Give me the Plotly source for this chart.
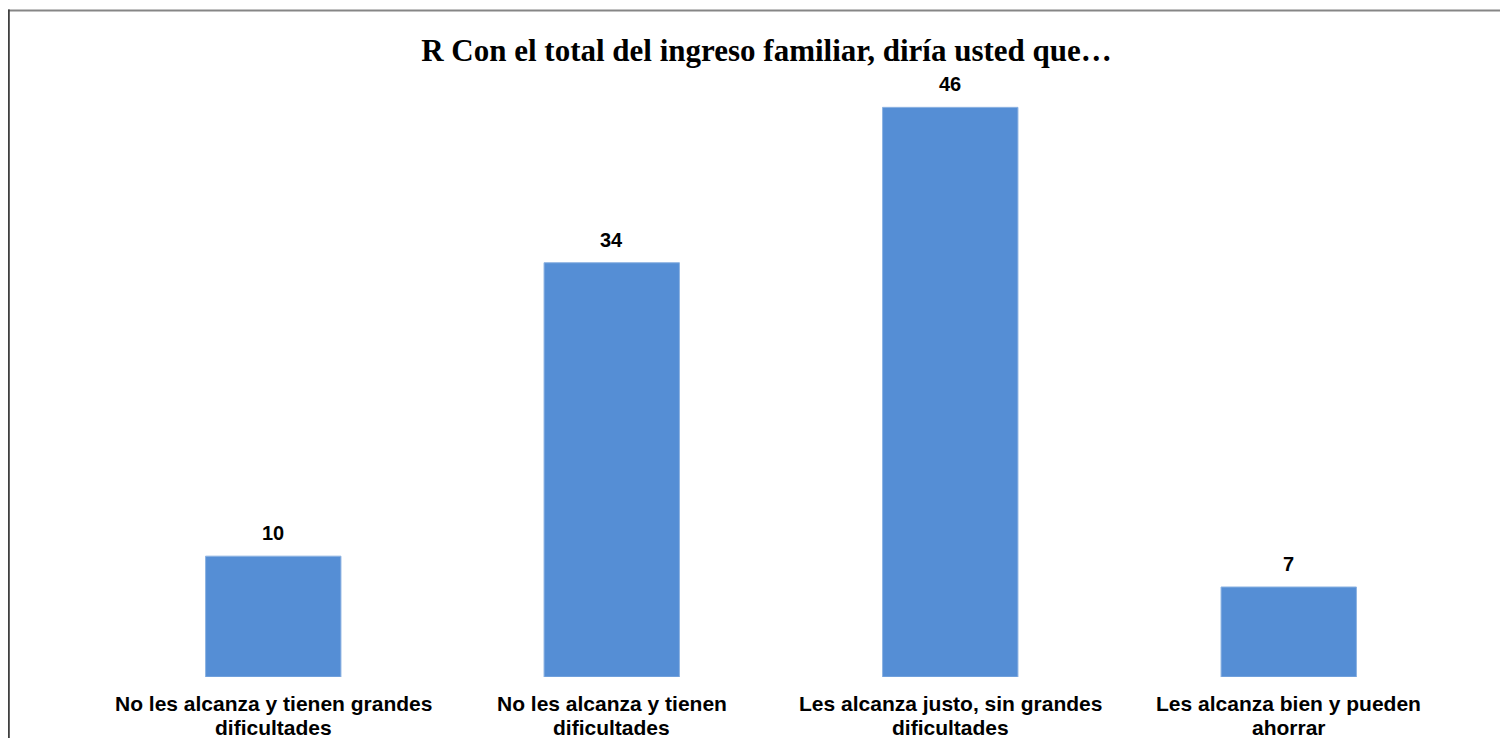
import plotly.graph_objects as go

categories = [
    "No les alcanza y tienen grandes<br>dificultades",
    "No les alcanza y tienen<br>dificultades",
    "Les alcanza justo, sin grandes<br>dificultades",
    "Les alcanza bien y pueden<br>ahorrar",
]
values = [9.8, 33.6, 46.2, 7.3]
value_labels = ["10", "34", "46", "7"]
title_text = "R Con el total del ingreso familiar, diría usted que…"

# page body has an 8px margin; figure coords = page coords - 8
W, H = 1500, 730
L, R, T, B = 96, 50, 62, 61
plot_w = W - L - R
plot_h = H - T - B
PX_PER_UNIT = 12.33

def px_to_paper_x(px):
    return (px - L) / plot_w

def px_to_paper_y(py):
    return (H - B - py) / plot_h

fig = go.Figure()
fig.add_trace(go.Bar(
    x=categories,
    y=values,
    marker=dict(color="#558ED5", line=dict(color="#8DB3E2", width=1)),
    width=0.4,
    hoverinfo="skip",
))

annotations = []
for c, v, lab in zip(categories, values, value_labels):
    annotations.append(dict(
        x=c, y=v, xref="x", yref="y", text="<b>" + lab + "</b>", showarrow=False,
        yanchor="middle", yshift=23,
        font=dict(family="Liberation Sans Narrow, Arial Narrow, Liberation Sans, sans-serif",
                  size=20, color="#000000"),
    ))
# category labels, one annotation per line for tight line spacing
line_y = [696, 719]
for c in categories:
    for i, part in enumerate(c.split("<br>")):
        annotations.append(dict(
            x=c, xref="x", yref="paper", y=px_to_paper_y(line_y[i]),
            yanchor="middle", text="<b>" + part + "</b>", showarrow=False,
            font=dict(family="Liberation Sans, Arial, sans-serif", size=21, color="#000000"),
        ))

fig.update_layout(
    width=W, height=H,
    margin=dict(l=L, r=R, t=T, b=B),
    paper_bgcolor="white", plot_bgcolor="white",
    showlegend=False,
    title=dict(
        text="<b>" + title_text + "</b>",
        font=dict(family="Liberation Serif, Times New Roman, serif", size=31, color="#000000"),
        x=758.5 / W, xanchor="center",
        y=1 - 42 / H, yanchor="middle",
    ),
    annotations=annotations,
    shapes=[
        dict(type="line", xref="paper", yref="paper",
             x0=px_to_paper_x(0), x1=px_to_paper_x(W + 5),
             y0=px_to_paper_y(2.5), y1=px_to_paper_y(2.5),
             line=dict(color="#868686", width=2)),
        dict(type="line", xref="paper", yref="paper",
             x0=px_to_paper_x(0.8), x1=px_to_paper_x(0.8),
             y0=px_to_paper_y(1.5), y1=px_to_paper_y(H + 5),
             line=dict(color="#404040", width=2)),
    ],
)
fig.update_xaxes(
    showline=False, showgrid=False, zeroline=False, ticks="",
    showticklabels=False,
)
fig.update_yaxes(
    range=[0, plot_h / PX_PER_UNIT], showgrid=False, zeroline=False,
    showline=False, showticklabels=False, ticks="",
)

fig.write_html("out.html")
